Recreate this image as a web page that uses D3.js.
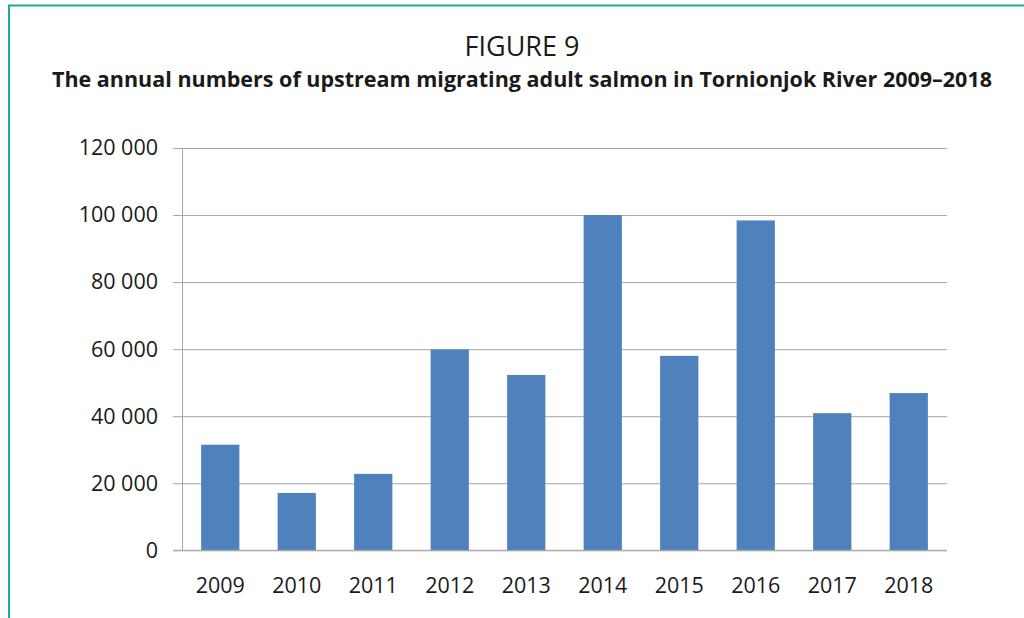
<!DOCTYPE html>
<html>
<head>
<meta charset="utf-8">
<script src="https://cdn.jsdelivr.net/npm/d3@7"></script>
<style>
  body { margin: 0; background: #fff; }
  svg { display: block; }
  text { font-family: "Open Sans", sans-serif; fill: #1a1a1a; }
</style>
</head>
<body>
<script>
//chart data
const years = ['2009', '2010', '2011', '2012', '2013', '2014', '2015', '2016', '2017', '2018']
const salmon = [31500, 17100, 22800, 59900, 52300, 100000, 58000, 98400, 40900, 46900]
const yTicks = [0, 20000, 40000, 60000, 80000, 100000, 120000]

const width = 1024
const height = 618

const svg = d3.select('body')
  .append('svg')
  .attr('width', width)
  .attr('height', height)

//teal frame (only top and left visible)
svg.append('path')
  .attr('d', `M9,${height} V5.5 H${width}`)
  .attr('fill', 'none')
  .attr('stroke', '#1fa89f')
  .attr('stroke-width', 2)

//titles
svg.append('text')
  .text('FIGURE 9')
  .attr('x', 522)
  .attr('y', 56)
  .attr('text-anchor', 'middle')
  .style('font-size', '27px')

svg.append('text')
  .text('The annual numbers of upstream migrating adult salmon in Tornionjok River 2009–2018')
  .attr('x', 522)
  .attr('y', 87)
  .attr('text-anchor', 'middle')
  .style('font-size', '21.5px')
  .style('font-weight', 700)

//plot area
const margin = { top: 148, left: 182, right: 77, bottom: 68 }
const innerWidth = width - margin.left - margin.right
const innerHeight = 550.3 - margin.top

const g = svg.append('g')
  .attr('transform', `translate(${margin.left},${margin.top})`)

const xScale = d3.scaleBand()
  .domain(years)
  .range([0, innerWidth])
  .paddingInner(0.5)
  .paddingOuter(0.25)

const yScale = d3.scaleLinear()
  .domain([0, 120000])
  .range([innerHeight, 0])

const fmt = d => d3.format(',')(d).replace(/,/g, ' ')

//y axis with gridlines
const yAxis = d3.axisLeft(yScale)
  .tickValues(yTicks)
  .tickFormat(fmt)
  .tickSize(-innerWidth - 9)
  .tickPadding(15)

const yAxisGroup = g.append('g')
  .attr('transform', 'translate(-9,0)')
  .call(yAxis)
yAxisGroup.select('.domain').remove()
yAxisGroup.selectAll('.tick line')
  .attr('x1', 0)
  .attr('x2', innerWidth + 9)
  .attr('stroke', '#a6a6a6')
yAxisGroup.selectAll('.tick text')
  .attr('x', -15)
  .style('font-size', '21.5px')
  .style('font-family', '"Open Sans", sans-serif')
  .attr('fill', '#1a1a1a')

//vertical axis line
g.append('line')
  .attr('x1', 0.5).attr('x2', 0.5)
  .attr('y1', 0).attr('y2', innerHeight)
  .attr('stroke', '#a6a6a6')

//bars
g.selectAll('rect.bar')
  .data(salmon)
  .enter()
  .append('rect')
  .attr('class', 'bar')
  .attr('x', (d, i) => xScale(years[i]))
  .attr('y', d => yScale(d))
  .attr('width', xScale.bandwidth())
  .attr('height', d => innerHeight - yScale(d))
  .attr('fill', '#4f81bd')

//x axis
const xAxis = d3.axisBottom(xScale)
  .tickSize(0)
  .tickPadding(27)

const xAxisGroup = g.append('g')
  .attr('transform', `translate(0,${innerHeight})`)
  .call(xAxis)
xAxisGroup.select('.domain').remove()
xAxisGroup.selectAll('.tick text')
  .style('font-size', '21.5px')
  .style('font-family', '"Open Sans", sans-serif')
  .attr('fill', '#1a1a1a')

g.append('line')
  .attr('x1', -9).attr('x2', innerWidth)
  .attr('y1', innerHeight).attr('y2', innerHeight)
  .attr('stroke', '#a6a6a6')
</script>
</body>
</html>
